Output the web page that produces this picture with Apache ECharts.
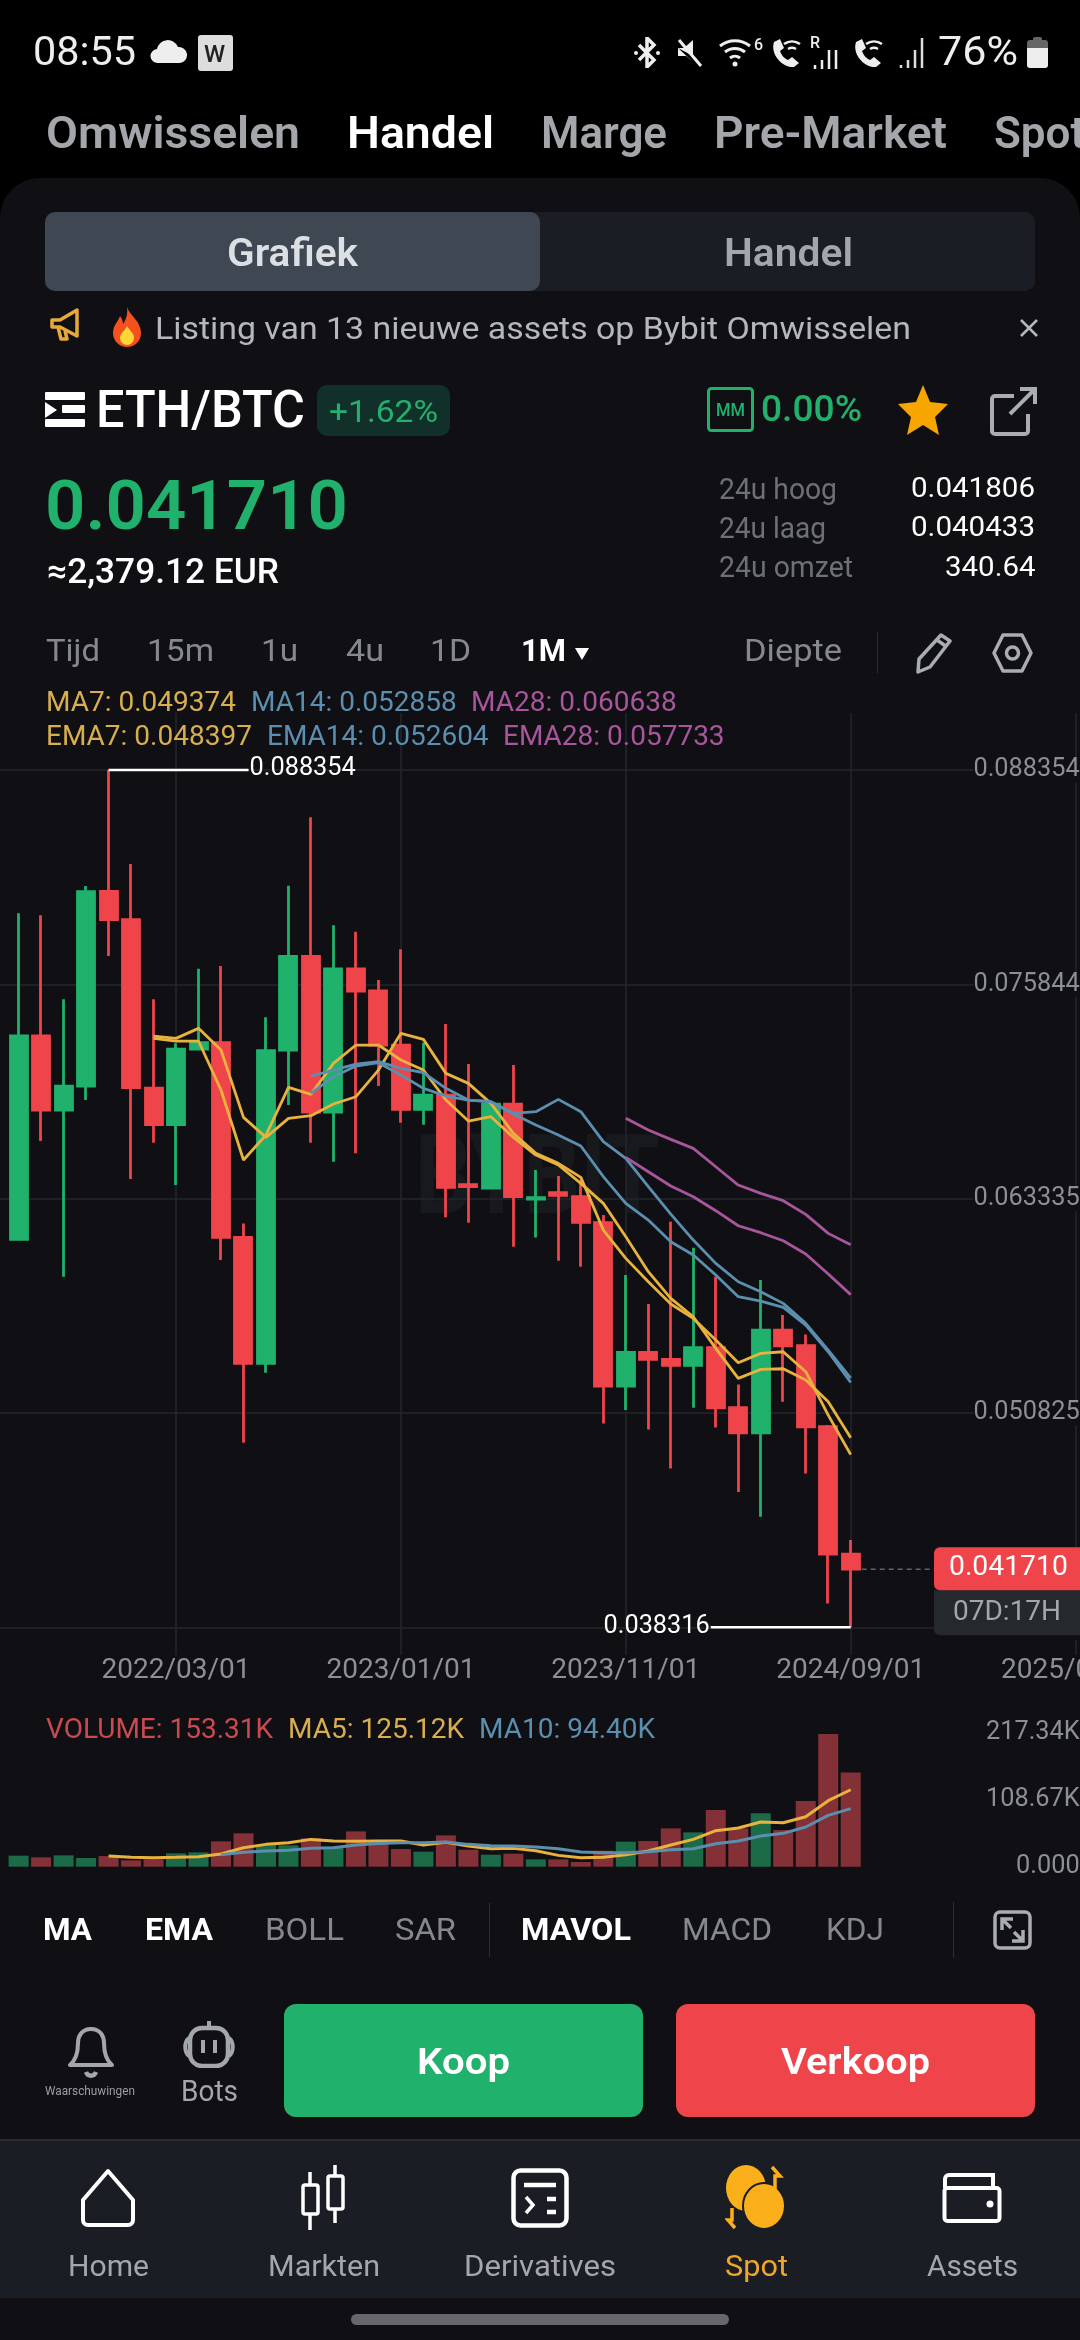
<!DOCTYPE html>
<html lang="nl">
<head>
<meta charset="UTF-8">
<title>ETH/BTC</title>
<script src="https://cdn.jsdelivr.net/npm/echarts@6/dist/echarts.min.js"></script>
<style>
  html, body { margin: 0; padding: 0; background: #000; }
  body { width: 1080px; height: 2340px; position: relative; overflow: hidden; font-family: Roboto, sans-serif; }
  #panel { position: absolute; left: 0; top: 178px; width: 1080px; height: 2162px; background: #101014; border-radius: 40px 40px 0 0; }
  #main { position: absolute; left: 0; top: 0; width: 1080px; height: 2340px; }
  #ui { position: absolute; left: 0; top: 0; width: 1080px; height: 2340px; }
  #ui div, #ui span, #ui svg { position: absolute; }
  #ui span { white-space: nowrap; line-height: 1; transform-origin: left center; }
</style>
</head>
<body>
<div id="panel"></div>
<div id="main"></div>
<div id="ui"></div>
<script>
// months, one empty month in front so the first candle sits off the left edge
const categories = ['2021/07/01','2021/08/01','2021/09/01','2021/10/01','2021/11/01','2021/12/01',
  '2022/01/01','2022/02/01','2022/03/01','2022/04/01','2022/05/01','2022/06/01','2022/07/01','2022/08/01','2022/09/01','2022/10/01','2022/11/01','2022/12/01',
  '2023/01/01','2023/02/01','2023/03/01','2023/04/01','2023/05/01','2023/06/01','2023/07/01','2023/08/01','2023/09/01','2023/10/01','2023/11/01','2023/12/01',
  '2024/01/01','2024/02/01','2024/03/01','2024/04/01','2024/05/01','2024/06/01','2024/07/01','2024/08/01','2024/09/01','2024/10/01','2024/11/01','2024/12/01',
  '2025/01/01','2025/02/01','2025/03/01','2025/04/01','2025/05/01','2025/06/01','2025/07/01'];

const opens = [0.060957,0.072827,0.068507,0.069908,0.081272,0.079618,0.069791,0.067651,0.072068,0.072438,
  0.061074,0.053719,0.072010,0.077477,0.068390,0.076738,0.075454,0.072301,0.068546,0.069383,
  0.064149,0.063954,0.068857,0.063312,0.063682,0.063448,0.061930,0.052396,0.054361,0.053953,
  0.053602,0.054634,0.051131,0.049672,0.055665,0.054750,0.050022,0.042589];
const closes = [0.072827,0.068507,0.069908,0.081252,0.079618,0.069811,0.067651,0.072068,0.072438,0.061074,
  0.053719,0.071971,0.077477,0.068390,0.076738,0.075454,0.072301,0.068546,0.069383,0.063993,
  0.064032,0.068857,0.063448,0.063390,0.063526,0.061950,0.052396,0.054361,0.053953,0.053602,
  0.054634,0.051131,0.049672,0.055665,0.054750,0.050022,0.042589,0.041710];
const lows = [0.060957,0.066698,0.058778,0.069091,0.077497,0.064479,0.066600,0.064129,0.072068,0.059751,
  0.049088,0.053174,0.068799,0.066600,0.065491,0.065978,0.069908,0.067768,0.067651,0.062242,
  0.061930,0.063954,0.060529,0.061074,0.059712,0.059362,0.050217,0.050995,0.049866,0.047590,
  0.051131,0.049983,0.046208,0.044768,0.051481,0.047298,0.039709,0.038316];
const highs = [0.079987,0.079871,0.074967,0.081583,0.088354,0.082867,0.074967,0.072399,0.076757,0.076913,
  0.061891,0.073917,0.081602,0.085591,0.079287,0.078917,0.076096,0.077886,0.072438,0.073527,
  0.071192,0.068950,0.071134,0.065005,0.064654,0.064421,0.062378,0.058875,0.057183,0.061989,
  0.060471,0.058778,0.052493,0.058584,0.056541,0.055412,0.050119,0.043406];

const ma7 = [0.072691,0.072535,0.072535,0.069675,0.065588,0.067048,0.069830,0.069422,0.071231,0.072301,
  0.072301,0.071426,0.070842,0.069091,0.067865,0.068118,0.066912,0.065880,0.065297,0.064226,
  0.063059,0.061113,0.059070,0.057513,0.056443,0.054595,0.052843,0.053369,0.053408,0.052746,0.051481,0.049374];
const ema7 = [0.072827,0.072691,0.073274,0.072010,0.068079,0.066912,0.068021,0.068176,0.068857,0.069285,
  0.070842,0.072983,0.072632,0.070648,0.070064,0.068896,0.067145,0.065978,0.065394,0.064577,
  0.061502,0.059848,0.058486,0.057183,0.056346,0.055081,0.053758,0.054303,0.054400,0.053233,0.050703,0.048397];
const ma14 = [0.070492,0.070842,0.071192,0.071329,0.070939,0.070686,0.069772,0.069091,0.068994,0.068313,
  0.068410,0.069130,0.068410,0.066659,0.065686,0.064032,0.062436,0.060919,0.059556,0.058486,
  0.057903,0.057222,0.056054,0.054497,0.052858];
const ema14 = [0.069480,0.070453,0.071076,0.071270,0.070550,0.069772,0.069324,0.069091,0.068994,0.068274,
  0.067632,0.067048,0.066406,0.064616,0.063059,0.062086,0.060821,0.060043,0.058875,0.057611,
  0.057358,0.056988,0.055957,0.054400,0.052604];
const ma28 = [0.068021,0.067340,0.066795,0.066270,0.065199,0.064129,0.063643,0.063215,0.062417,0.061308,0.060638];
const ema28 = [0.065744,0.064907,0.064071,0.063448,0.062631,0.061755,0.061347,0.060880,0.060101,0.058934,0.057733];

// in thousands
const volumes = [17.9,15.2,18.4,14.1,17.3,10.3,11.9,21.7,23.3,41.2,54.2,35.2,34.7,46.1,32.5,57.4,42.3,28.7,24.4,50.9,
  27.6,19.5,21.1,11.9,11.9,7.6,26.0,40.6,41.7,62.3,55.8,92.1,62.3,86.7,59.6,106.8,215.7,153.31];
const volMa5 = [17.3,15.2,14.6,15.2,16.3,20.6,30.9,36.3,39.0,44.4,41.7,41.2,41.7,41.7,35.2,39.6,33.6,29.3,29.8,26.0,
  18.4,14.6,15.2,19.5,25.5,35.2,44.4,58.5,62.9,72.6,71.5,81.3,107.3,125.12];
const volMa10 = [19.5,23.3,25.5,26.6,29.8,30.9,35.2,37.9,39.0,39.0,40.1,36.3,34.1,33.6,32.0,29.3,23.8,22.8,22.8,24.4,
  27.6,29.3,37.4,41.7,49.9,54.2,64.5,83.5,94.40];

const priceTicks = [0.038316,0.050825,0.063335,0.075844,0.088354];
const volumeTicks = ['0.000','108.67K','217.34K'];

const UP = '#20b26c', DOWN = '#ef454a';
const YELLOW = '#e8b23e', BLUE = '#5b8fb0', PINK = '#a8569c';
const GRID = '#24262b', TICK = '#8c8f94';
const LEAD = 1; // empty months in front of the data

function pad(values, start) {
  return new Array(start + LEAD).fill('-').concat(values);
}

const candles = opens.map((o, i) => [o, closes[i], lows[i], highs[i]]);
const volumeBars = volumes.map((v, i) => ({
  value: v,
  itemStyle: { color: closes[i] >= opens[i] ? '#1b6b49' : '#843037' }
}));

function line(name, values, start, color, xi, width) {
  return {
    name: name, type: 'line', xAxisIndex: xi, yAxisIndex: xi,
    data: pad(values, start), showSymbol: false, silent: true, z: 5,
    lineStyle: { color: color, width: width }
  };
}

// the white leader lines at the highest and lowest candle
function renderExtreme(params, api) {
  const p = api.coord([api.value(0), api.value(1)]);
  const dir = api.value(2);
  const len = 140;
  return {
    type: 'group',
    children: [
      { type: 'line', shape: { x1: p[0], y1: p[1], x2: p[0] + dir * len, y2: p[1] },
        style: { stroke: '#fff', lineWidth: 2.5 } },
      { type: 'text', style: { x: p[0] + dir * (len + 1), y: p[1] - 1, text: api.value(1).toFixed(6),
        fill: '#fff', font: '25.3px Roboto', align: dir > 0 ? 'left' : 'right', verticalAlign: 'middle' } }
    ]
  };
}

// dashed last price line with the price tag and countdown at the right edge
function renderLast(params, api) {
  const p = api.coord([api.value(0), api.value(1)]);
  const tagX = 934;
  return {
    type: 'group',
    children: [
      { type: 'line', shape: { x1: p[0] + 11, y1: p[1], x2: tagX, y2: p[1] },
        style: { stroke: '#5f6267', lineWidth: 1.5, lineDash: [5, 4] } },
      { type: 'rect', shape: { x: tagX, y: p[1] + 21, width: 150, height: 45, r: [0, 0, 0, 6] },
        style: { fill: '#25282d' } },
      { type: 'rect', shape: { x: tagX, y: p[1] - 22, width: 150, height: 43, r: [6, 0, 0, 6] },
        style: { fill: DOWN } },
      { type: 'text', style: { x: 949, y: p[1] - 1, text: api.value(1).toFixed(6), fill: '#fff',
        font: '28.3px Roboto', verticalAlign: 'middle' } },
      { type: 'text', style: { x: 953, y: p[1] + 44, text: '07D:17H', fill: '#a3a6ab',
        font: '28px Roboto', verticalAlign: 'middle' } }
    ]
  };
}

function legendText(text, x, y, color) {
  return { type: 'text', x: x, y: y, silent: true, z: 10,
    style: { text: text, fill: color, font: '28px Roboto', verticalAlign: 'middle' } };
}

const isTick = i => (i - 8) % 10 === 0;

const option = {
  animation: false,
  backgroundColor: 'transparent',
  grid: [
    { left: -3.89, width: 1079.5, top: 713, height: 942, outerBoundsMode: 'none' },
    { left: -3.89, width: 1079.5, top: 1733, height: 133.7, outerBoundsMode: 'none' }
  ],
  xAxis: [
    { type: 'category', gridIndex: 0, data: categories, boundaryGap: false,
      axisLine: { show: false }, axisTick: { show: false },
      splitLine: { show: true, interval: i => isTick(i), lineStyle: { color: GRID, width: 1.5 } },
      axisLabel: { interval: i => isTick(i), color: TICK, fontFamily: 'Roboto', fontSize: 28, margin: 2, showMaxLabel: true, hideOverlap: false } },
    { type: 'category', gridIndex: 1, data: categories, boundaryGap: false,
      axisLine: { show: false }, axisTick: { show: false }, axisLabel: { show: false }, splitLine: { show: false } }
  ],
  yAxis: [
    { type: 'value', gridIndex: 0, position: 'right', min: 0.036699, max: 0.091681,
      axisLine: { show: false },
      axisTick: { show: false, customValues: priceTicks },
      splitLine: { show: true, lineStyle: { color: GRID, width: 1.5 } },
      axisLabel: { inside: true, margin: -4, customValues: priceTicks, color: TICK, fontFamily: 'Roboto', fontSize: 25.3,
        backgroundColor: '#101014', verticalAlignMaxLabel: 'middle', verticalAlignMinLabel: 'middle',
        formatter: v => v.toFixed(6) } },
    { type: 'value', gridIndex: 1, position: 'right', min: 0, max: 217.34, interval: 108.67,
      axisLine: { show: false }, axisTick: { show: false }, splitLine: { show: false },
      axisLabel: { inside: true, margin: -4, color: TICK, fontFamily: 'Roboto', fontSize: 25.3,
        verticalAlignMaxLabel: 'middle', verticalAlignMinLabel: 'middle',
        formatter: (v, i) => volumeTicks[i] } }
  ],
  series: [
    { name: 'ETH/BTC', type: 'candlestick', xAxisIndex: 0, yAxisIndex: 0, z: 3, silent: true,
      data: pad(candles, 0).map(d => d === '-' ? ['-', '-', '-', '-'] : d),
      barWidth: 17.5,
      itemStyle: { color: UP, color0: DOWN, borderColor: UP, borderColor0: DOWN, borderWidth: 2.8 } },
    line('MA7', ma7, 6, YELLOW, 0, 2.8),
    line('EMA7', ema7, 6, YELLOW, 0, 2.8),
    line('MA14', ma14, 13, BLUE, 0, 2.8),
    line('EMA14', ema14, 13, BLUE, 0, 2.8),
    line('MA28', ma28, 27, PINK, 0, 2.8),
    line('EMA28', ema28, 27, PINK, 0, 2.8),
    { type: 'custom', xAxisIndex: 0, yAxisIndex: 0, z: 6, silent: true, clip: false, renderItem: renderExtreme,
      data: [[4 + LEAD, highs[4], 1], [37 + LEAD, lows[37], -1]] },
    { type: 'custom', xAxisIndex: 0, yAxisIndex: 0, z: 6, silent: true, clip: false, renderItem: renderLast,
      data: [[37 + LEAD, closes[37]]] },
    { name: 'VOLUME', type: 'bar', xAxisIndex: 1, yAxisIndex: 1, data: pad(volumeBars, 0), barWidth: 20, silent: true },
    line('MA5', volMa5, 4, YELLOW, 1, 3),
    line('MA10', volMa10, 9, BLUE, 1, 3)
  ],
  graphic: [
    { type: 'text', x: 415, y: 1185, scaleX: 0.79, silent: true, z: 0,
      style: { text: 'BYBIT', fill: '#17191d', font: '700 112px Roboto', verticalAlign: 'middle' } },
    legendText('MA7: 0.049374', 46, 704, '#d9ae4f'),
    legendText('MA14: 0.052858', 251, 704, '#5b8fb0'),
    legendText('MA28: 0.060638', 471, 704, '#a8569c'),
    legendText('EMA7: 0.048397', 46, 738, '#d9ae4f'),
    legendText('EMA14: 0.052604', 267, 738, '#5b8fb0'),
    legendText('EMA28: 0.057733', 503, 738, '#a8569c'),
    legendText('VOLUME: 153.31K', 46, 1731, '#c94a50'),
    legendText('MA5: 125.12K', 288, 1731, '#d9ae4f'),
    legendText('MA10: 94.40K', 479, 1731, '#5b8fb0')
  ]
};

let myChart = echarts.init(document.getElementById('main'), null, { renderer: 'canvas' });
myChart.setOption(option);

// ---- app chrome around the chart ----
const ui = document.getElementById('ui');

// w is the width the text has in the screenshot, the glyphs get squeezed to it
function label(text, x, cy, size, color, weight, w, center) {
  const el = document.createElement('span');
  el.textContent = text;
  el.style.cssText = `left:${x}px;top:${cy}px;font-size:${size}px;color:${color};font-weight:${weight || 400};`;
  ui.appendChild(el);
  let k = 1;
  if (w) k = w / el.getBoundingClientRect().width;
  const width = el.getBoundingClientRect().width * k;
  if (center) el.style.left = (x - width / 2) + 'px';
  el.style.transform = `translateY(-50%) scaleX(${k})`;
}

function box(x, y, w, h, bg, radius) {
  const el = document.createElement('div');
  el.style.cssText = `left:${x}px;top:${y}px;width:${w}px;height:${h}px;background:${bg};border-radius:${radius || 0};`;
  ui.appendChild(el);
}

function icon(x, y, w, h, inner) {
  ui.insertAdjacentHTML('beforeend',
    `<svg style="left:${x}px;top:${y}px" width="${w}" height="${h}" viewBox="0 0 ${w} ${h}" fill="none">${inner}</svg>`);
}

const GREY = '#a3a6ab', DIM = '#85888e';

// status bar
label('08:55', 33, 52, 40, '#eee', 400, 103);
icon(150, 40, 38, 24, '<path d="M8 23a7 7 0 0 1-1-14 11 11 0 0 1 21-2 8 8 0 0 1 2 16z" fill="#eee"/>');
box(198, 35, 35, 36, '#ddd', '3px');
label('W', 204, 54, 24, '#222', 500);
icon(633, 37, 28, 31, '<path d="M6 8l15 15-7 7V1l7 7L6 23" stroke="#eee" stroke-width="3.5"/><circle cx="3" cy="16" r="2" fill="#eee"/><circle cx="25" cy="16" r="2" fill="#eee"/>');
icon(675, 38, 30, 29, '<path d="M3 10h6L18 2v16M18 24l-7-6H3v-8" fill="#eee"/><path d="M4 2l22 26" stroke="#eee" stroke-width="3"/>');
icon(718, 36, 48, 33, '<path d="M2 10a24 24 0 0 1 30 0M7 16a16 16 0 0 1 20 0M12 22a8 8 0 0 1 10 0" stroke="#eee" stroke-width="3"/><circle cx="17" cy="28" r="2.5" fill="#eee"/>');
label('6', 754, 45, 16, '#eee', 500);
icon(770, 36, 34, 33, '<path d="M4 6l6-3 4 9-4 3c2 5 4 7 8 9l4-3 7 6-5 4C12 32 0 18 4 6z" fill="#eee"/><path d="M14 8a14 14 0 0 1 16 0M18 13a8 8 0 0 1 8 0" stroke="#eee" stroke-width="2.5"/>');
label('R', 810, 43, 16, '#eee', 500);
icon(812, 50, 30, 19, '<path d="M3 19v-4M10 19v-9M17 19V0M24 19V0" stroke="#eee" stroke-width="2.5"/>');
icon(852, 36, 36, 33, '<path d="M4 6l6-3 4 9-4 3c2 5 4 7 8 9l4-3 7 6-5 4C12 32 0 18 4 6z" fill="#eee"/><path d="M14 8a14 14 0 0 1 16 0M18 13a8 8 0 0 1 8 0" stroke="#eee" stroke-width="2.5"/>');
icon(898, 38, 28, 30, '<path d="M3 30v-3M10 30v-8M17 30V12M24 30V0" stroke="#ddd" stroke-width="2.5"/>');
label('76%', 938, 52, 40, '#eee', 400, 80);
box(1027, 44, 21, 24, '#eee', '0 0 3px 3px');
box(1027, 40, 21, 8, '#666', '3px 3px 0 0');
box(1033, 37, 9, 4, '#666', '2px 2px 0 0');

// top tabs
const tabs = [['Omwisselen', 46, 254, GREY], ['Handel', 347, 147, '#fff'], ['Marge', 541, 126, GREY], ['Pre-Market', 714, 233, GREY]];
tabs.forEach(t => label(t[0], t[1], 133, 44, t[3], 600, t[2]));
label('Spot', 994, 133, 44, GREY, 600);

// grafiek / handel switch
box(45, 212, 990, 79, '#1b1d24', '10px');
box(45, 212, 495, 79, '#3f4752', '10px');
label('Grafiek', 292, 253, 38, '#dcdfe3', 600, 131, true);
label('Handel', 788, 253, 38, GREY, 600, 129, true);

// notice row
icon(48, 306, 36, 42, '<path d="M4 14h8L29 4v26L12 21H4zM10 21l3 12h6l-2-8" stroke="#e8a93b" stroke-width="3.5" stroke-linejoin="round"/>');
icon(108, 306, 38, 42, '<path d="M19 1c3 9 14 14 14 26a14 14 0 0 1-28 0c0-8 5-11 7-17 2 3 3 5 3 8 3-4 5-10 4-17z" fill="#f4511e"/><path d="M19 20c2 4 7 7 7 12a7 7 0 0 1-14 0c0-5 5-7 7-12z" fill="#fdd835"/>');
label('Listing van 13 nieuwe assets op Bybit Omwisselen', 155, 328, 32, '#b4b7bc', 400, 756);
icon(1019, 318, 20, 20, '<path d="M2 2l16 16M18 2L2 18" stroke="#b4b7bc" stroke-width="2.5"/>');

// pair header
box(45, 392, 40, 8, '#fff', '1px');
box(45, 419, 40, 8, '#fff', '1px');
box(62, 405, 23, 8, '#fff', '1px');
icon(45, 402, 13, 16, '<path d="M0 0l12 8-12 8z" fill="#fff"/>');
label('ETH/BTC', 96, 410, 52, '#fff', 500, 209);
box(317, 385, 133, 51, '#12302a', '10px');
label('+1.62%', 329, 411, 32, '#25b06f', 400, 109);
box(707, 387, 47, 45, '#101014', '3px');
icon(707, 387, 47, 45, '<rect x="1.5" y="1.5" width="44" height="42" rx="3" stroke="#20b26c" stroke-width="3"/>');
label('MM', 716, 410, 18, '#20b26c', 500, 29);
label('0.00%', 761, 409, 36, '#20b26c', 500, 101);
icon(897, 384, 52, 52, '<path d="M26 1l7 17 18 2-13 13 4 18-16-10-16 10 4-18L1 20l18-2z" fill="#f7a600"/>');
icon(990, 386, 48, 50, '<path d="M24 10H5a3 3 0 0 0-3 3v32a3 3 0 0 0 3 3h30a3 3 0 0 0 3-3V28M20 28L45 3M30 3h15v15" stroke="#a9acb1" stroke-width="4"/>');

// price block
label('0.041710', 45, 506, 68, UP, 600, 303);
label('≈2,379.12 EUR', 47, 571, 35, '#fff', 500, 232);
label('24u hoog', 719, 489, 29, '#6d7078', 400, 118);
label('24u laag', 719, 528, 29, '#6d7078', 400, 107);
label('24u omzet', 719, 567, 29, '#6d7078', 400, 134);
label('0.041806', 911, 488, 28, '#fff', 400, 124);
label('0.040433', 911, 527, 28, '#fff', 400, 124);
label('340.64', 944.5, 567, 28, '#fff', 400, 90.5);

// interval row
const intervals = [['Tijd', 46, 54], ['15m', 147, 67], ['1u', 261, 37], ['4u', 346, 38], ['1D', 430, 41]];
intervals.forEach(t => label(t[0], t[1], 650, 32, DIM, 400, t[2]));
label('1M', 521, 650, 32, '#fff', 700, 45);
icon(574, 647, 16, 13, '<path d="M1 1h14l-7 12z" fill="#fff"/>');
label('Diepte', 744, 650, 32, DIM, 400, 98);
box(876.5, 632, 1.5, 41, '#2c2e33');
icon(914, 632, 40, 42, '<path d="M27 3l9 6-20 26-12 5 1-13zM23 8l10 7" stroke="#a9acb1" stroke-width="3.5" stroke-linejoin="round"/>');
icon(992, 632, 41, 42, '<path d="M11 3h19l9 18-9 18H11L2 21z" stroke="#a9acb1" stroke-width="3.5" stroke-linejoin="round"/><circle cx="20.5" cy="21" r="6" stroke="#a9acb1" stroke-width="3.5"/>');

// indicator row
const indicators = [['MA', 43, 49, 1], ['EMA', 145, 68, 1], ['BOLL', 265, 79, 0], ['SAR', 395, 61, 0],
  ['MAVOL', 521, 110, 1], ['MACD', 682, 90, 0], ['KDJ', 826, 58, 0]];
indicators.forEach(t => label(t[0], t[1], 1929, 32, t[3] ? '#fff' : DIM, t[3] ? 700 : 400, t[2]));
box(488.5, 1903, 1.5, 54, '#2c2e33');
box(952.5, 1902, 1.5, 56, '#2c2e33');
icon(993, 1910, 39, 40, '<rect x="2" y="2" width="35" height="36" rx="5" stroke="#a9acb1" stroke-width="3.5"/><path d="M9 20V9h11M9 9l9 9M30 20v11H19M30 31l-9-9" stroke="#a9acb1" stroke-width="3.5"/>');

// buttons
icon(65, 2026, 52, 54, '<path d="M26 3c-10 0-13 8-13 14 0 9-2 17-8 22h42c-6-5-8-13-8-22 0-6-3-14-13-14z" stroke="#a3a6ab" stroke-width="4" stroke-linejoin="round"/><path d="M21 46c2 5 8 5 10 0" stroke="#a3a6ab" stroke-width="4.5"/>');
label('Waarschuwingen', 45, 2091, 12, '#9b9ea3', 400, 90);
icon(181, 2018, 56, 50, '<rect x="9" y="10" width="38" height="38" rx="12" stroke="#a3a6ab" stroke-width="4.5"/><path d="M22 22v13M34 22v13M28 10V3" stroke="#a3a6ab" stroke-width="4"/><path d="M8 20c-5 4-5 14 0 18M48 20c5 4 5 14 0 18" stroke="#a3a6ab" stroke-width="4"/>');
label('Bots', 181, 2091, 29, GREY, 400, 57);
box(284, 2004, 358.5, 113, UP, '12px');
box(676, 2004, 359, 113, DOWN, '12px');
label('Koop', 463, 2061, 37, '#fff', 600, 93, true);
label('Verkoop', 855.5, 2061, 37, '#fff', 600, 149, true);

// bottom navigation
box(0, 2139, 1080, 159, '#1b1d24');
box(0, 2139, 1080, 2, '#2a2c33');
box(351, 2314, 378, 11, '#66676b', '6px');
icon(80, 2168, 56, 60, '<path d="M28 3L3 32v20a5 5 0 0 0 5 5h40a5 5 0 0 0 5-5V32z" stroke="#fff" stroke-width="4" stroke-linejoin="round"/>');
icon(300, 2164, 46, 68, '<rect x="3" y="21" width="15" height="29" rx="2" stroke="#fff" stroke-width="3.5"/><rect x="28" y="12" width="15" height="33" rx="2" stroke="#fff" stroke-width="3.5"/><path d="M10 8v13M10 50v16M35 1v11M35 45v14" stroke="#fff" stroke-width="3.5"/>');
icon(511, 2168, 58, 60, '<rect x="2.5" y="2.5" width="53" height="55" rx="7" stroke="#fff" stroke-width="4.5"/><path d="M13 17h32M36 31h9M36 44h9" stroke="#fff" stroke-width="4.5"/><path d="M15 29l7 8-7 8" stroke="#fff" stroke-width="3.5"/>');
icon(725, 2164, 62, 66, '<ellipse cx="21" cy="24" rx="20" ry="23" fill="#fbb01b"/><ellipse cx="39" cy="42" rx="21" ry="23" fill="#fbb01b" stroke="#1b1d24" stroke-width="2"/><path d="M47 3l8 9h-5v14" stroke="#fbb01b" stroke-width="3.5"/><path d="M10 64l-7-8h4V44" stroke="#fbb01b" stroke-width="3.5"/>');
icon(942, 2172, 60, 52, '<path d="M3 16V7a4 4 0 0 1 4-4h44v13" stroke="#fff" stroke-width="4"/><rect x="2.5" y="16" width="55" height="33" rx="3" stroke="#fff" stroke-width="4"/><circle cx="48" cy="32" r="3.5" fill="#fff"/>');
const navItems = [['Home', 108, 81, GREY], ['Markten', 324, 112, GREY], ['Derivatives', 540, 152, GREY], ['Spot', 756, 63, '#f0a62a'], ['Assets', 972, 91, GREY]];
navItems.forEach(t => label(t[0], t[1], 2266, 30, t[3], 400, t[2], true));
</script>
</body>
</html>
